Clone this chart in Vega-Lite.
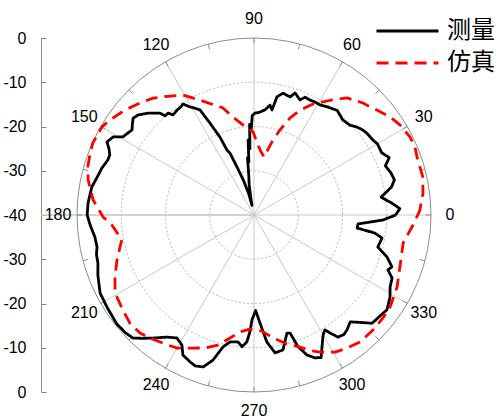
{
  "$schema": "https://vega.github.io/schema/vega-lite/v6.json",
  "width": 354,
  "height": 354,
  "autosize": {"type": "none"},
  "padding": {"left": 77, "top": 38, "right": 69, "bottom": 27},
  "background": "white",
  "config": {"view": {"stroke": null}, "font": "Liberation Sans"},
  "datasets": {
    "rings": [{"level": -30}, {"level": -20}, {"level": -10}],
    "outer": [{"level": 0}],
    "angles": [{"a": 0}, {"a": 30}, {"a": 60}, {"a": 90}, {"a": 120}, {"a": 150}, {"a": 180}, {"a": 210}, {"a": 240}, {"a": 270}, {"a": 300}, {"a": 330}],
    "ticks": [{"a": 0}, {"a": 15}, {"a": 30}, {"a": 45}, {"a": 60}, {"a": 75}, {"a": 90}, {"a": 105}, {"a": 120}, {"a": 135}, {"a": 150}, {"a": 165}, {"a": 180}, {"a": 195}, {"a": 210}, {"a": 225}, {"a": 240}, {"a": 255}, {"a": 270}, {"a": 285}, {"a": 300}, {"a": 315}, {"a": 330}, {"a": 345}],
    "curves": [
      {"s": "测量", "a": 0, "v": -8.0}, {"s": "测量", "a": 2.5, "v": -7.0}, {"s": "测量", "a": 5, "v": -8.8}, {"s": "测量", "a": 8, "v": -11.0}, {"s": "测量", "a": 11.5, "v": -8.3}, {"s": "测量", "a": 14, "v": -7.3}, {"s": "测量", "a": 17, "v": -7.6}, {"s": "测量", "a": 20.5, "v": -8.3}, {"s": "测量", "a": 23, "v": -6.8}, {"s": "测量", "a": 26, "v": -7.9}, {"s": "测量", "a": 30, "v": -7.8}, {"s": "测量", "a": 32, "v": -8.2}, {"s": "测量", "a": 36, "v": -8.5}, {"s": "测量", "a": 38, "v": -8.8}, {"s": "测量", "a": 40.5, "v": -9.4}, {"s": "测量", "a": 43, "v": -10.3}, {"s": "测量", "a": 47, "v": -10.6}, {"s": "测量", "a": 51.5, "v": -9.8}, {"s": "测量", "a": 56, "v": -10.5}, {"s": "测量", "a": 59, "v": -11.0}, {"s": "测量", "a": 61.6, "v": -11.0}, {"s": "测量", "a": 64, "v": -11.1}, {"s": "测量", "a": 66.6, "v": -11.0}, {"s": "测量", "a": 68.2, "v": -12.0}, {"s": "测量", "a": 71.4, "v": -10.9}, {"s": "测量", "a": 73, "v": -12.1}, {"s": "测量", "a": 76.6, "v": -11.7}, {"s": "测量", "a": 79, "v": -12.8}, {"s": "测量", "a": 80.3, "v": -15.9}, {"s": "测量", "a": 81.7, "v": -14.9}, {"s": "测量", "a": 84, "v": -16.1}, {"s": "测量", "a": 86.7, "v": -16.7}, {"s": "测量", "a": 89.5, "v": -17.0}, {"s": "测量", "a": 91, "v": -17.5}, {"s": "测量", "a": 92, "v": -21}, {"s": "测量", "a": 92.8, "v": -19.5}, {"s": "测量", "a": 93.5, "v": -25}, {"s": "测量", "a": 94.5, "v": -23}, {"s": "测量", "a": 95.5, "v": -28}, {"s": "测量", "a": 96.5, "v": -27}, {"s": "测量", "a": 97.5, "v": -31}, {"s": "测量", "a": 99, "v": -33}, {"s": "测量", "a": 100.5, "v": -36}, {"s": "测量", "a": 102, "v": -37.8}, {"s": "测量", "a": 104, "v": -35}, {"s": "测量", "a": 107, "v": -31.7}, {"s": "测量", "a": 109.5, "v": -28.5}, {"s": "测量", "a": 111.2, "v": -25.0}, {"s": "测量", "a": 112.6, "v": -24.1}, {"s": "测量", "a": 113.6, "v": -20.8}, {"s": "测量", "a": 115.6, "v": -17.0}, {"s": "测量", "a": 117.2, "v": -13.3}, {"s": "测量", "a": 119, "v": -12.4}, {"s": "测量", "a": 121, "v": -11.4}, {"s": "测量", "a": 122.6, "v": -10.2}, {"s": "测量", "a": 124, "v": -10.5}, {"s": "测量", "a": 126.3, "v": -10.6}, {"s": "测量", "a": 129, "v": -10.9}, {"s": "测量", "a": 130.1, "v": -9.9}, {"s": "测量", "a": 131.9, "v": -9.9}, {"s": "测量", "a": 132.7, "v": -8.7}, {"s": "测量", "a": 136.1, "v": -6.8}, {"s": "测量", "a": 139.2, "v": -5.4}, {"s": "测量", "a": 141.3, "v": -5.0}, {"s": "测量", "a": 143, "v": -5.6}, {"s": "测量", "a": 145.1, "v": -6.4}, {"s": "测量", "a": 147, "v": -6.0}, {"s": "测量", "a": 149.2, "v": -5.5}, {"s": "测量", "a": 151, "v": -3.6}, {"s": "测量", "a": 153.6, "v": -2.9}, {"s": "测量", "a": 155.5, "v": -4.0}, {"s": "测量", "a": 157.4, "v": -4.7}, {"s": "测量", "a": 159.4, "v": -4.7}, {"s": "测量", "a": 163, "v": -4.0}, {"s": "测量", "a": 166.7, "v": -3.5}, {"s": "测量", "a": 170.2, "v": -2.8}, {"s": "测量", "a": 175.9, "v": -2.4}, {"s": "测量", "a": 180, "v": -2.3}, {"s": "测量", "a": 183.5, "v": -2.9}, {"s": "测量", "a": 187.9, "v": -3.7}, {"s": "测量", "a": 191.5, "v": -3.8}, {"s": "测量", "a": 194, "v": -3.3}, {"s": "测量", "a": 197.1, "v": -3.1}, {"s": "测量", "a": 201, "v": -2.2}, {"s": "测量", "a": 206.9, "v": -1.0}, {"s": "测量", "a": 212, "v": -0.8}, {"s": "测量", "a": 218.4, "v": -0.4}, {"s": "测量", "a": 222.5, "v": -0.6}, {"s": "测量", "a": 225.5, "v": -1.0}, {"s": "测量", "a": 228, "v": -2.5}, {"s": "测量", "a": 230.6, "v": -4.0}, {"s": "测量", "a": 234.5, "v": -6.1}, {"s": "测量", "a": 237.9, "v": -7.2}, {"s": "测量", "a": 241, "v": -6.4}, {"s": "测量", "a": 243.1, "v": -4.5}, {"s": "测量", "a": 246.5, "v": -3.8}, {"s": "测量", "a": 248.7, "v": -3.4}, {"s": "测量", "a": 251.5, "v": -3.8}, {"s": "测量", "a": 254.2, "v": -5.9}, {"s": "测量", "a": 256.8, "v": -9.4}, {"s": "测量", "a": 259.3, "v": -10.8}, {"s": "测量", "a": 262.8, "v": -11.1}, {"s": "测量", "a": 264.8, "v": -10.1}, {"s": "测量", "a": 266.8, "v": -11.3}, {"s": "测量", "a": 268, "v": -13.6}, {"s": "测量", "a": 268.9, "v": -16.3}, {"s": "测量", "a": 271, "v": -18.4}, {"s": "测量", "a": 273.2, "v": -15.5}, {"s": "测量", "a": 275.8, "v": -11.1}, {"s": "测量", "a": 278.7, "v": -8.5}, {"s": "测量", "a": 282.1, "v": -8.8}, {"s": "测量", "a": 285.6, "v": -12.3}, {"s": "测量", "a": 287, "v": -12.1}, {"s": "测量", "a": 288.5, "v": -8.6}, {"s": "测量", "a": 290.7, "v": -6.2}, {"s": "测量", "a": 293.1, "v": -4.9}, {"s": "测量", "a": 295.2, "v": -4.4}, {"s": "测量", "a": 299.9, "v": -8.7}, {"s": "测量", "a": 301.7, "v": -9.5}, {"s": "测量", "a": 302.8, "v": -8.3}, {"s": "测量", "a": 304.5, "v": -6.5}, {"s": "测量", "a": 307, "v": -6.2}, {"s": "测量", "a": 309, "v": -6.6}, {"s": "测量", "a": 312, "v": -7.5}, {"s": "测量", "a": 314, "v": -6.3}, {"s": "测量", "a": 317.5, "v": -3.8}, {"s": "测量", "a": 320.3, "v": -3.6}, {"s": "测量", "a": 324.5, "v": -3.1}, {"s": "测量", "a": 328.9, "v": -4.1}, {"s": "测量", "a": 332.1, "v": -5.2}, {"s": "测量", "a": 335.5, "v": -5.7}, {"s": "测量", "a": 337.7, "v": -7.3}, {"s": "测量", "a": 339.4, "v": -6.7}, {"s": "测量", "a": 342.5, "v": -8.5}, {"s": "测量", "a": 345.5, "v": -11.1}, {"s": "测量", "a": 349.8, "v": -10.6}, {"s": "测量", "a": 351.5, "v": -12.4}, {"s": "测量", "a": 352.8, "v": -16.5}, {"s": "测量", "a": 355.1, "v": -16.4}, {"s": "测量", "a": 357.8, "v": -10.8}, {"s": "测量", "a": 360, "v": -8.0},
      {"s": "仿真", "a": 0, "v": -3.0}, {"s": "仿真", "a": 1.7, "v": -2.5}, {"s": "仿真", "a": 7.4, "v": -1.5}, {"s": "仿真", "a": 12.7, "v": -0.9}, {"s": "仿真", "a": 19.6, "v": -0.9}, {"s": "仿真", "a": 22.9, "v": -0.5}, {"s": "仿真", "a": 26.6, "v": -0.6}, {"s": "仿真", "a": 31.6, "v": -1.2}, {"s": "仿真", "a": 35.8, "v": -2.1}, {"s": "仿真", "a": 40.5, "v": -3.5}, {"s": "仿真", "a": 45.8, "v": -4.7}, {"s": "仿真", "a": 51.5, "v": -6.2}, {"s": "仿真", "a": 56.5, "v": -8.9}, {"s": "仿真", "a": 62, "v": -11.6}, {"s": "仿真", "a": 66.3, "v": -14.1}, {"s": "仿真", "a": 69.6, "v": -16.6}, {"s": "仿真", "a": 73, "v": -19.9}, {"s": "仿真", "a": 75.8, "v": -22.5}, {"s": "仿真", "a": 80.2, "v": -26.7}, {"s": "仿真", "a": 84, "v": -25.5}, {"s": "仿真", "a": 86.7, "v": -24.2}, {"s": "仿真", "a": 90.7, "v": -21.2}, {"s": "仿真", "a": 97, "v": -19.5}, {"s": "仿真", "a": 102.1, "v": -17.4}, {"s": "仿真", "a": 106.2, "v": -14.8}, {"s": "仿真", "a": 115.2, "v": -11.3}, {"s": "仿真", "a": 118.5, "v": -9.7}, {"s": "仿真", "a": 120.6, "v": -8.5}, {"s": "仿真", "a": 125.2, "v": -7.1}, {"s": "仿真", "a": 130.8, "v": -5.1}, {"s": "仿真", "a": 135.5, "v": -3.9}, {"s": "仿真", "a": 140.9, "v": -2.4}, {"s": "仿真", "a": 146.6, "v": -1.0}, {"s": "仿真", "a": 149.9, "v": -0.3}, {"s": "仿真", "a": 155.9, "v": -0.1}, {"s": "仿真", "a": 159.9, "v": -0.5}, {"s": "仿真", "a": 163.9, "v": -0.9}, {"s": "仿真", "a": 168.1, "v": -1.7}, {"s": "仿真", "a": 174.7, "v": -3.5}, {"s": "仿真", "a": 180.8, "v": -5.9}, {"s": "仿真", "a": 184, "v": -7.8}, {"s": "仿真", "a": 190.7, "v": -9.6}, {"s": "仿真", "a": 191.8, "v": -9.3}, {"s": "仿真", "a": 198.2, "v": -7.4}, {"s": "仿真", "a": 204, "v": -5.6}, {"s": "仿真", "a": 209.3, "v": -4.0}, {"s": "仿真", "a": 215.9, "v": -3.4}, {"s": "仿真", "a": 221.1, "v": -2.8}, {"s": "仿真", "a": 226, "v": -2.9}, {"s": "仿真", "a": 229.8, "v": -3.6}, {"s": "仿真", "a": 236.2, "v": -4.7}, {"s": "仿真", "a": 240.1, "v": -5.3}, {"s": "仿真", "a": 245, "v": -6.8}, {"s": "仿真", "a": 249.8, "v": -8.0}, {"s": "仿真", "a": 254.5, "v": -9.5}, {"s": "仿真", "a": 259, "v": -11.7}, {"s": "仿真", "a": 263.2, "v": -13.4}, {"s": "仿真", "a": 268, "v": -14.2}, {"s": "仿真", "a": 273.9, "v": -13.7}, {"s": "仿真", "a": 278.8, "v": -11.9}, {"s": "仿真", "a": 284.3, "v": -9.9}, {"s": "仿真", "a": 289.2, "v": -8.4}, {"s": "仿真", "a": 293.1, "v": -6.6}, {"s": "仿真", "a": 295.7, "v": -5.6}, {"s": "仿真", "a": 300.6, "v": -4.0}, {"s": "仿真", "a": 305, "v": -3.3}, {"s": "仿真", "a": 309.9, "v": -2.6}, {"s": "仿真", "a": 316, "v": -2.6}, {"s": "仿真", "a": 321.4, "v": -2.7}, {"s": "仿真", "a": 326.1, "v": -2.9}, {"s": "仿真", "a": 333.3, "v": -3.8}, {"s": "仿真", "a": 340.4, "v": -5.0}, {"s": "仿真", "a": 349.4, "v": -5.7}, {"s": "仿真", "a": 356.4, "v": -4.0}, {"s": "仿真", "a": 360, "v": -3.0}
    ]
  },
  "layer": [
    {
      "data": {"name": "rings"},
      "transform": [{"calculate": "datum.level + 40", "as": "r"}, {"calculate": "0", "as": "o"}],
      "mark": {"type": "point", "filled": false, "color": "#b4b4b4", "strokeWidth": 1, "strokeDash": [2, 2], "opacity": 1},
      "encoding": {
        "x": {"field": "o", "type": "quantitative", "scale": {"domain": [-40, 40]}, "axis": null},
        "y": {"field": "o", "type": "quantitative", "scale": {"domain": [-40, 40]}, "title": null,
          "axis": {
            "values": [-40, -35, -30, -25, -20, -15, -10, -5, 0, 5, 10, 15, 20, 25, 30, 35, 40],
            "labelExpr": "datum.value % 10 == 0 ? '' + (abs(datum.value) - 40) : ''",
            "offset": 36, "grid": false, "title": null,
            "domainColor": "#888888", "tickColor": "#888888",
            "tickSize": -5,
            "labelFontSize": 16, "labelColor": "black", "labelPadding": 20, "labelFont": "Liberation Sans",
            "labelBound": false, "labelOverlap": false, "labelFlush": false
          }},
        "size": {"field": "r", "type": "quantitative", "scale": {"type": "pow", "exponent": 2, "domain": [0, 40], "range": [0, 125316]}, "legend": null}
      }
    },
    {
      "data": {"name": "angles"},
      "transform": [
        {"calculate": "0", "as": "o"},
        {"calculate": "40 * cos(datum.a * PI / 180)", "as": "rx"},
        {"calculate": "40 * sin(datum.a * PI / 180)", "as": "ry"}
      ],
      "mark": {"type": "rule", "color": "#c8c8c8", "strokeWidth": 1},
      "encoding": {
        "x": {"field": "o", "type": "quantitative", "axis": null},
        "y": {"field": "o", "type": "quantitative", "title": null},
        "x2": {"field": "rx"},
        "y2": {"field": "ry"}
      }
    },
    {
      "data": {"values": [{"from": -48.2, "to": 0, "y0": 0}]},
      "mark": {"type": "rule", "color": "#cccccc", "strokeWidth": 1.5},
      "encoding": {
        "x": {"field": "from", "type": "quantitative", "axis": null},
        "x2": {"field": "to"},
        "y": {"field": "y0", "type": "quantitative", "title": null}
      }
    },
    {
      "data": {"name": "outer"},
      "transform": [{"calculate": "datum.level + 40", "as": "r"}, {"calculate": "0", "as": "o"}],
      "mark": {"type": "point", "filled": false, "color": "#8c8c8c", "strokeWidth": 1, "opacity": 1},
      "encoding": {
        "x": {"field": "o", "type": "quantitative", "axis": null},
        "y": {"field": "o", "type": "quantitative", "title": null},
        "size": {"field": "r", "type": "quantitative", "scale": {"type": "pow", "exponent": 2, "domain": [0, 40], "range": [0, 125316]}, "legend": null}
      }
    },
    {
      "data": {"name": "ticks"},
      "transform": [
        {"calculate": "38.8 * cos(datum.a * PI / 180)", "as": "tx"},
        {"calculate": "38.8 * sin(datum.a * PI / 180)", "as": "ty"},
        {"calculate": "40 * cos(datum.a * PI / 180)", "as": "tx2"},
        {"calculate": "40 * sin(datum.a * PI / 180)", "as": "ty2"}
      ],
      "mark": {"type": "rule", "color": "#8c8c8c", "strokeWidth": 1},
      "encoding": {
        "x": {"field": "tx", "type": "quantitative", "axis": null},
        "y": {"field": "ty", "type": "quantitative", "title": null},
        "x2": {"field": "tx2"},
        "y2": {"field": "ty2"}
      }
    },
    {
      "data": {"name": "angles"},
      "transform": [
        {"calculate": "44.3 * cos(datum.a * PI / 180)", "as": "lx"},
        {"calculate": "44.3 * sin(datum.a * PI / 180)", "as": "ly"}
      ],
      "mark": {"type": "text", "fontSize": 16, "font": "Liberation Sans", "color": "black", "align": "center", "baseline": "middle"},
      "encoding": {
        "x": {"field": "lx", "type": "quantitative", "axis": null},
        "y": {"field": "ly", "type": "quantitative", "title": null},
        "text": {"field": "a", "type": "nominal"}
      }
    },
    {
      "data": {"name": "curves"},
      "transform": [
        {"calculate": "(datum.v + 40) * cos(datum.a * PI / 180)", "as": "px"},
        {"calculate": "(datum.v + 40) * sin(datum.a * PI / 180)", "as": "py"}
      ],
      "mark": {"type": "line", "strokeWidth": 2.8, "strokeJoin": "round"},
      "encoding": {
        "x": {"field": "px", "type": "quantitative", "axis": null},
        "y": {"field": "py", "type": "quantitative", "title": null},
        "order": {"field": "a", "type": "quantitative"},
        "color": {"field": "s", "type": "nominal", "scale": {"domain": ["测量", "仿真"], "range": ["#000000", "#ff0000"]},
          "legend": {"title": null, "orient": "none", "legendX": 298, "legendY": -23, "padding": 0, "symbolType": "stroke", "symbolSize": 3844, "symbolStrokeWidth": 3, "labelFontSize": 24, "labelFont": "Noto Sans CJK SC", "labelColor": "black", "rowPadding": 0, "clipHeight": 32, "labelOffset": 7, "symbolOffset": 0}},
        "strokeDash": {"field": "s", "type": "nominal", "scale": {"domain": ["测量", "仿真"], "range": [[1, 0], [12, 7]]},
          "legend": {"title": null, "orient": "none", "legendX": 298, "legendY": -23, "padding": 0, "symbolType": "stroke", "symbolSize": 3844, "symbolStrokeWidth": 3, "labelFontSize": 24, "labelFont": "Noto Sans CJK SC", "labelColor": "black", "rowPadding": 0, "clipHeight": 32, "labelOffset": 7, "symbolOffset": 0}}
      }
    }
  ]
}
